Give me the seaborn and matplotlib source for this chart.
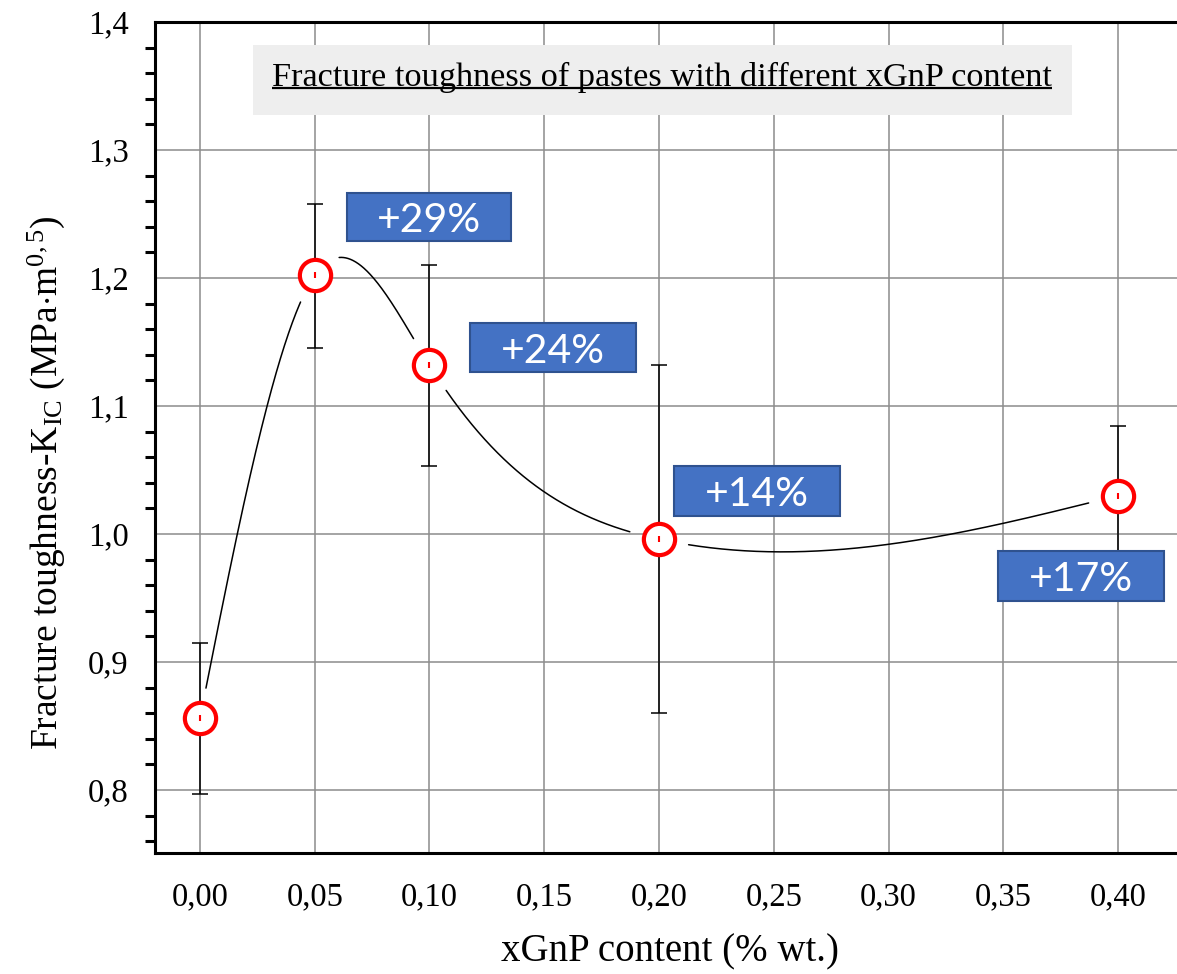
import numpy as np
import pandas as pd
import matplotlib
matplotlib.use("Agg")
import matplotlib.pyplot as plt
import seaborn as sns
from matplotlib.patches import Rectangle

# ---- data ----
xgnp = [0.00, 0.05, 0.10, 0.20, 0.40]
kic = [0.856, 1.202, 1.132, 0.996, 1.030]
err_upper = [0.915, 1.258, 1.210, 1.132, 1.084]
err_lower = [0.797, 1.145, 1.053, 0.860, 0.977]
pct_labels = ["+29%", "+24%", "+14%", "+17%"]
xticks = [0.00, 0.05, 0.10, 0.15, 0.20, 0.25, 0.30, 0.35, 0.40]
yticks = [0.8, 0.9, 1.0, 1.1, 1.2, 1.3, 1.4]
title_text = "Fracture toughness of pastes with different xGnP content"

df = pd.DataFrame({"x": xgnp, "y": kic, "lo": err_lower, "hi": err_upper})

sns.set_style("white")
plt.rcParams["font.family"] = ["Liberation Serif", "DejaVu Serif"]
plt.rcParams["mathtext.fontset"] = "custom"
plt.rcParams["mathtext.rm"] = "Liberation Serif"
plt.rcParams["mathtext.it"] = "Liberation Serif:italic"
for k in ["text.color", "axes.labelcolor", "xtick.color", "ytick.color"]:
    plt.rcParams[k] = "black"

W, H = 1177, 974
fig = plt.figure(figsize=(W / 100, H / 100), dpi=100)
ax = fig.add_axes([155 / W, (H - 853) / H, (W - 155) / W, (853 - 22) / H])
ax.set_xlim(-0.0196, 0.4257)
ax.set_ylim(0.7508, 1.4)

# grid
ax.set_xticks(xticks)
ax.set_yticks(yticks)
ax.set_yticks(np.arange(0.76, 1.40, 0.02), minor=True)
ax.grid(True, which="major", color="#8c8c8c", linewidth=1.1, zorder=0)
ax.set_axisbelow(True)

ax.set_xticklabels([f"{v:.2f}".replace(".", ",") for v in xticks])
ax.set_yticklabels([f"{v:.1f}".replace(".", ",") for v in yticks])
ax.tick_params(axis="both", which="major", direction="out", length=12, width=2.2,
               labelsize=23.5, color="black", labelcolor="black")
ax.tick_params(axis="y", which="major", pad=7)
ax.tick_params(axis="x", which="major", pad=9)
ax.tick_params(axis="y", which="minor", direction="out", length=7, width=2.2, left=True)
for s in ["left", "bottom", "top"]:
    ax.spines[s].set_linewidth(2.2)
    ax.spines[s].set_color("black")
ax.spines["right"].set_visible(False)

# ---- smooth spline connecting line (natural cubic spline through data) ----
xs = np.array(xgnp); ys = np.array(kic)
n = len(xs)
h = np.diff(xs)
A = np.zeros((n, n)); b = np.zeros(n)
A[0, 0] = 1; A[-1, -1] = 1
for i in range(1, n - 1):
    A[i, i - 1] = h[i - 1]; A[i, i] = 2 * (h[i - 1] + h[i]); A[i, i + 1] = h[i]
    b[i] = 3 * ((ys[i + 1] - ys[i]) / h[i] - (ys[i] - ys[i - 1]) / h[i - 1])
c = np.linalg.solve(A, b)
bb = np.array([(ys[i + 1] - ys[i]) / h[i] - h[i] * (2 * c[i] + c[i + 1]) / 3 for i in range(n - 1)])
dd = np.array([(c[i + 1] - c[i]) / (3 * h[i]) for i in range(n - 1)])
xf = np.linspace(xs[0], xs[-1], 2000)
idx = np.clip(np.searchsorted(xs, xf) - 1, 0, n - 2)
dx = xf - xs[idx]
yf = ys[idx] + bb[idx] * dx + c[idx] * dx ** 2 + dd[idx] * dx ** 3

# mask line near markers (in pixel space)
fig.canvas.draw()
pts = ax.transData.transform(np.column_stack([xf, yf]))
cen = ax.transData.transform(np.column_stack([xs, ys]))
dist = np.min(np.hypot(pts[:, None, 0] - cen[None, :, 0], pts[:, None, 1] - cen[None, :, 1]), axis=1)
yline = np.where(dist < 30, np.nan, yf)
ax.plot(xf, yline, color="black", linewidth=1.1, zorder=2)

# error bars
ax.errorbar(df["x"], df["y"], yerr=[df["y"] - df["lo"], df["hi"] - df["y"]], fmt="none",
            ecolor="black", elinewidth=1.1, capsize=5.8, capthick=1.1, zorder=3)

# markers
sns.scatterplot(data=df, x="x", y="y", ax=ax, s=22.5 ** 2, marker="o",
                facecolor="white", edgecolor="#ff0000", linewidth=3.0, zorder=4, legend=False)
ax.scatter(df["x"], df["y"], marker="|", s=20, color="#ff0000", linewidths=1.5, zorder=5)

# percent boxes
boxes = [(0.0641, 1.2289, 0.0714, 0.0375),
         (0.1176, 1.1266, 0.0724, 0.0382),
         (0.2065, 1.0141, 0.0724, 0.0390),
         (0.3477, 0.9477, 0.0723, 0.0390)]
for (bx, by, bw, bh), lab in zip(boxes, pct_labels):
    ax.add_patch(Rectangle((bx, by), bw, bh, facecolor="#4472c4", edgecolor="#2f528f",
                           linewidth=1.5, zorder=6))
    ax.text(bx + bw / 2, by + bh / 2, lab, color="white", fontsize=29.5, family=["Lato", "DejaVu Sans"],
            ha="center", va="center_baseline", zorder=7)

# title box
ax.add_patch(Rectangle((0.0231, 1.3273), 0.3569, 0.0547, facecolor="#eeeeee",
                       edgecolor="none", zorder=6))
t = ax.text(0.2013, 1.350, title_text, fontsize=24.7, ha="center", va="baseline",
            color="black", zorder=7)
fig.canvas.draw()
ext = t.get_window_extent(renderer=fig.canvas.get_renderer())
inv = ax.transData.inverted()
(x0, y0), (x1, y1) = inv.transform([[ext.x0, ext.y0], [ext.x1, ext.y0]])
ul_y = inv.transform([[0, ext.y0 + 5]])[0][1]
ax.plot([x0, x1], [ul_y, ul_y], color="black", linewidth=1.6, zorder=8,
        solid_capstyle="butt")

ax.set_xlabel("xGnP content (% wt.)", fontsize=28)
ax.xaxis.set_label_coords(0.504, -0.097)
ax.set_ylabel(r"Fracture toughness-K$_{\mathrm{IC}}$ (MPa$\cdot$m$^{0,5}$)", fontsize=27)
ax.yaxis.set_label_coords(-0.086, 0.445)

fig.savefig("out.png", dpi=100)
